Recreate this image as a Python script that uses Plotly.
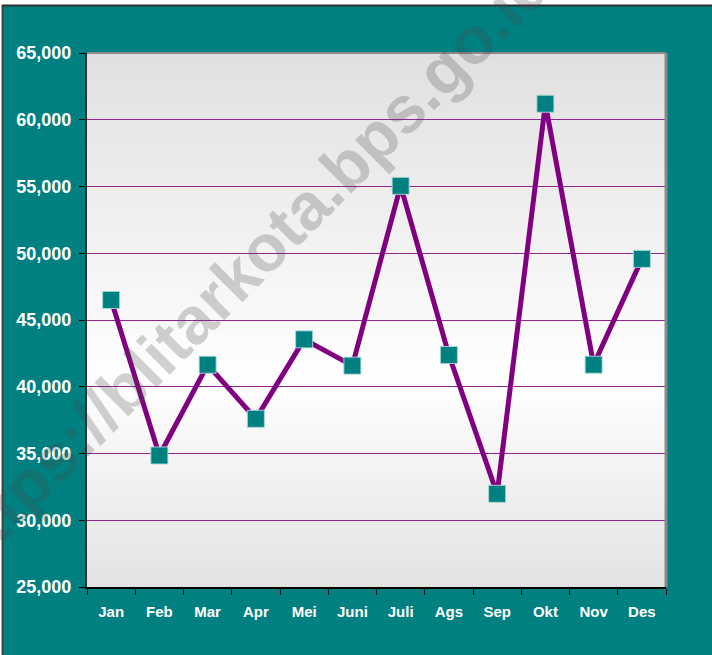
import plotly.graph_objects as go

months = ["Jan", "Feb", "Mar", "Apr", "Mei", "Juni", "Juli", "Ags", "Sep", "Okt", "Nov", "Des"]
values = [46500, 34850, 41650, 37600, 43550, 41580, 55050, 42380, 31980, 61200, 41650, 49580]
y_ticks = [25000, 30000, 35000, 40000, 45000, 50000, 55000, 60000, 65000]

TEAL = "#008080"
PURPLE = "#800080"

fig = go.Figure()
fig.add_trace(go.Scatter(
    x=months, y=values, mode="lines+markers",
    line=dict(color=PURPLE, width=5),
    marker=dict(symbol="square", size=17, color=TEAL,
                line=dict(color="rgba(170,215,215,0.9)", width=1)),
    showlegend=False, hoverinfo="x+y",
))

# vertical gradient background of the plot area
shapes = []
N = 80
def shade(f):
    c_mid = 0.39
    if f <= c_mid:
        v = 227 + (255 - 227) * (f / c_mid)
    else:
        v = 255 - (255 - 224) * ((f - c_mid) / (1 - c_mid))
    v = int(round(v))
    return f"rgb({v},{v},{v})"
for i in range(N):
    f0 = i / N
    f1 = (i + 1) / N
    shapes.append(dict(type="rect", xref="x domain", yref="y domain",
                       x0=0, x1=1, y0=f0, y1=f1 + 0.002,
                       fillcolor=shade((f0 + f1) / 2), line=dict(width=0),
                       layer="below"))
# top & right borders of plot area
shapes.append(dict(type="line", xref="x domain", yref="y domain", x0=0, x1=1, y0=1, y1=1,
                   line=dict(color="#8a8a8a", width=2), layer="above"))
shapes.append(dict(type="line", xref="x domain", yref="y domain", x0=1, x1=1, y0=0, y1=1,
                   line=dict(color="#8a8a8a", width=3), layer="above"))

W, H = 712, 655
L, R, T, B = 87, 46, 53, 68
pw, ph = W - L - R, H - T - B
def px(xp):
    return (xp - L) / pw
def py(yp):
    return (H - B - yp) / ph

# outer frame: white strip on top, dark border lines
shapes.append(dict(type="rect", xref="paper", yref="paper", x0=px(-5), x1=px(W + 5),
                   y0=py(5), y1=py(-5), fillcolor="white", line=dict(width=0), layer="above"))
shapes.append(dict(type="line", xref="paper", yref="paper", x0=px(2), x1=px(W + 5),
                   y0=py(5.5), y1=py(5.5), line=dict(color="#303030", width=2), layer="above"))
shapes.append(dict(type="line", xref="paper", yref="paper", x0=px(2.5), x1=px(2.5),
                   y0=py(5.5), y1=py(H + 5), line=dict(color="#404040", width=2), layer="above"))
shapes.append(dict(type="rect", xref="paper", yref="paper", x0=px(-5), x1=px(1.5),
                   y0=py(-5), y1=py(H + 5), fillcolor="white", line=dict(width=0), layer="above"))

fig.update_layout(
    width=W, height=H,
    margin=dict(l=L, r=R, t=T, b=B),
    paper_bgcolor=TEAL,
    plot_bgcolor="rgba(0,0,0,0)",
    shapes=shapes,
    font=dict(family="Arial, Liberation Sans, sans-serif", color="white"),
    xaxis=dict(
        type="category", range=[-0.5, 11.5],
        tickson="boundaries", ticks="outside", ticklen=6, tickcolor="black", tickwidth=1,
        showline=True, linecolor="black", linewidth=2,
        showgrid=False, zeroline=False,
        tickfont=dict(size=15, color="white", family="Arial, Liberation Sans, sans-serif", weight="bold"),
        ticklabelstandoff=10,
    ),
    yaxis=dict(
        range=[25000, 65000], tickvals=y_ticks, tickformat=",d",
        ticks="outside", ticklen=6, tickcolor="black", tickwidth=1,
        showline=True, linecolor="#303030", linewidth=2,
        showgrid=True, gridcolor="#952595", gridwidth=1, zeroline=False,
        tickfont=dict(size=18, color="white", family="Arial, Liberation Sans, sans-serif", weight="bold"),
        ticklabelstandoff=4,
    ),
    annotations=[dict(
        text="https://blitarkota.bps.go.id", xref="paper", yref="paper",
        x=px(246), y=py(266), xanchor="center", yanchor="middle", showarrow=False,
        textangle=-45,
        font=dict(size=66, color="rgba(70,70,70,0.25)", family="Arial, Liberation Sans, sans-serif",
                  weight="bold"),
    )],
)

fig.write_html("out.html", config={"displayModeBar": False},
               post_script="document.body.style.margin='0px';document.body.style.overflow='hidden';")
